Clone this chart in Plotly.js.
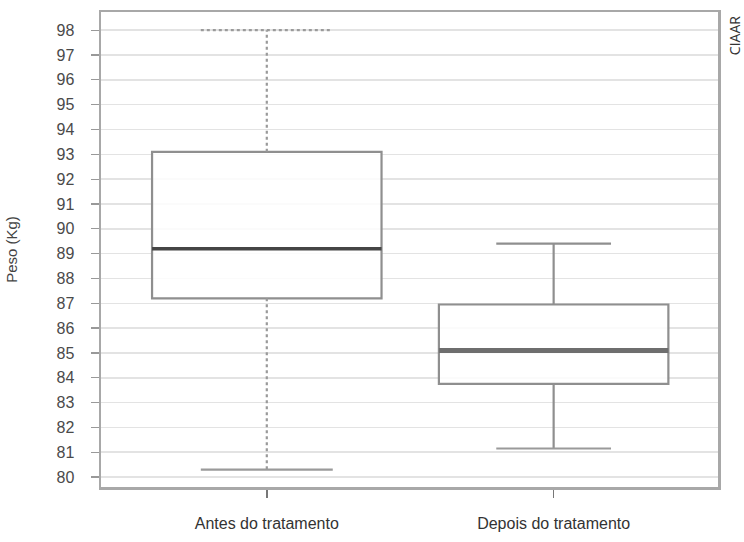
<!DOCTYPE html>
<html>
<head>
<meta charset="utf-8">
<script src="https://cdn.plot.ly/plotly-3.0.1.min.js"></script>
<style>
  html, body { margin: 0; padding: 0; background: #fff; }
  #chart { width: 744px; height: 542px; }
</style>
</head>
<body>
<div id="chart"></div>
<script>
// values (Peso em Kg)
const categories = ['Antes do tratamento', 'Depois do tratamento'];
const lowerWhisker = [80.3, 81.15];
const q1Values = [87.2, 83.75];
const medianValues = [89.2, 85.1];
const q3Values = [93.1, 86.95];
const upperWhisker = [98, 89.4];
const yTicks = [80, 81, 82, 83, 84, 85, 86, 87, 88, 89, 90, 91, 92, 93, 94, 95, 96, 97, 98];

const positions = categories.map((c, i) => i);
const halfWidth = 0.4;
const capHalf = [0.23, 0.2];
const whiskerDash = ['dot', 'solid'];
const whiskerColor = ['#9a9a9a', '#8f8f8f'];
const medianColor = ['#454545', '#6e6e6e'];
const medianWidth = [3.5, 5];

let traces = [];

categories.forEach((cat, i) => {
    const p = positions[i];
    // whisker stems + caps, drawn under the box
    traces.push({
        type: 'scatter', mode: 'lines',
        x: [p, p, null, p, p],
        y: [q3Values[i], upperWhisker[i], null, q1Values[i], lowerWhisker[i]],
        line: {color: whiskerColor[i], width: 2.2, dash: whiskerDash[i]},
        hoverinfo: 'skip', showlegend: false
    });
    traces.push({
        type: 'scatter', mode: 'lines',
        x: [p - capHalf[i], p + capHalf[i]],
        y: [upperWhisker[i], upperWhisker[i]],
        line: {color: whiskerColor[i], width: 2.2, dash: whiskerDash[i]},
        hoverinfo: 'skip', showlegend: false
    });
    traces.push({
        type: 'scatter', mode: 'lines',
        x: [p - capHalf[i], p + capHalf[i]],
        y: [lowerWhisker[i], lowerWhisker[i]],
        line: {color: '#9a9a9a', width: 2.2},
        hoverinfo: 'skip', showlegend: false
    });
});

categories.forEach((cat, i) => {
    // the box itself (fences at the quartiles so the whiskers above show)
    traces.push({
        type: 'box',
        x: [positions[i]],
        q1: [q1Values[i]],
        median: [medianValues[i]],
        q3: [q3Values[i]],
        lowerfence: [q1Values[i]],
        upperfence: [q3Values[i]],
        width: halfWidth * 2,
        whiskerwidth: 0,
        fillcolor: 'rgba(255,255,255,0.85)',
        line: {color: '#8f8f8f', width: 2.2},
        hoverinfo: 'skip',
        showlegend: false
    });
    traces.push({
        type: 'scatter', mode: 'lines',
        x: [positions[i] - halfWidth, positions[i] + halfWidth],
        y: [medianValues[i], medianValues[i]],
        line: {color: medianColor[i], width: medianWidth[i]},
        hoverinfo: 'skip', showlegend: false
    });
});

const layout = {
    width: 744,
    height: 542,
    margin: {l: 101, r: 26, t: 12, b: 55},
    paper_bgcolor: '#ffffff',
    plot_bgcolor: '#ffffff',
    font: {family: 'Liberation Sans, Arial, sans-serif', color: '#4a4a4a', size: 13},
    showlegend: false,
    xaxis: {
        range: [-0.578, 1.573],
        tickvals: positions,
        ticktext: categories,
        ticks: 'outside',
        ticklen: 8,
        tickwidth: 1.5,
        tickcolor: '#777',
        ticklabelstandoff: 12,
        tickfont: {size: 16, color: '#333'},
        showgrid: false,
        zeroline: false,
        showline: true,
        linecolor: '#a8a8a8',
        linewidth: 2.5,
        mirror: true,
        automargin: false
    },
    yaxis: {
        range: [79.6, 98.73],
        tickvals: yTicks,
        ticktext: yTicks.map(String),
        ticks: 'outside',
        ticklen: 8,
        tickwidth: 1.2,
        tickcolor: '#999',
        ticklabelstandoff: 13,
        tickfont: {size: 16, color: '#4a4a4a'},
        showgrid: true,
        gridcolor: '#e3e3e3',
        gridwidth: 1.5,
        zeroline: false,
        showline: true,
        linecolor: '#a8a8a8',
        linewidth: 2.5,
        mirror: true,
        automargin: false,
        title: {text: 'Peso (Kg)', font: {size: 15, color: '#444'}, standoff: 36}
    },
    annotations: [{
        text: 'CIAAR',
        xref: 'paper', yref: 'paper',
        x: 1.028, y: 0.995,
        xanchor: 'center', yanchor: 'top',
        textangle: -90,
        showarrow: false,
        font: {family: 'Open Sans, sans-serif', size: 14, color: '#333'}
    }]
};

Plotly.newPlot('chart', traces, layout, {displayModeBar: false, staticPlot: true});
</script>
</body>
</html>
